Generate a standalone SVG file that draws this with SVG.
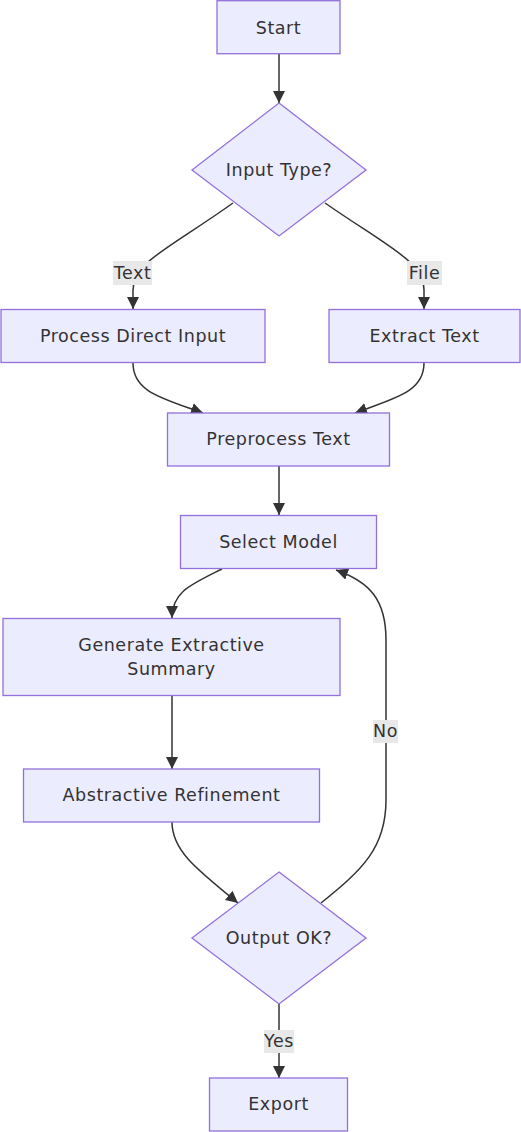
<svg xmlns="http://www.w3.org/2000/svg" width="521" height="1132" viewBox="0 0 521 1132">
<style>
.node rect,.node polygon{fill:#ECECFF;stroke:#9370DB;stroke-width:1.3}
text{font-family:"DejaVu Sans",Verdana,sans-serif;font-size:17.5px;letter-spacing:0.55px;fill:#333;text-anchor:middle}
.edge{fill:none;stroke:#333;stroke-width:1.5}
.lbl rect{fill:#e8e8e8;stroke:none}
</style>
<defs>
<marker id="arr" viewBox="0 0 10 10" refX="10" refY="5" markerUnits="userSpaceOnUse" markerWidth="12" markerHeight="12" orient="auto">
<path d="M0,0 L10,5 L0,10 z" fill="#333"/>
</marker>
</defs>
<rect width="521" height="1132" fill="#fff"/>
<g id="edges">
<path class="edge" d="M279,54 L279,103" marker-end="url(#arr)"/>
<path class="edge" d="M233,203 C170,248 133,262 133,290 L133,309" marker-end="url(#arr)"/>
<path class="edge" d="M325,203 C390,248 424,262 424,290 L424,309" marker-end="url(#arr)"/>
<path class="edge" d="M133,363 C133,392 162,398 203,413" marker-end="url(#arr)"/>
<path class="edge" d="M424,363 C424,392 395,398 355,413" marker-end="url(#arr)"/>
<path class="edge" d="M279,466 L279,515" marker-end="url(#arr)"/>
<path class="edge" d="M222,569 C190,585 172,592 172,618" marker-end="url(#arr)"/>
<path class="edge" d="M172,696 L172,769" marker-end="url(#arr)"/>
<path class="edge" d="M172,822 C172,850 195,868 238,903" marker-end="url(#arr)"/>
<path class="edge" d="M321,903 C362,870 386,848 386,800 L386,640 C386,600 370,582 336,570" marker-end="url(#arr)"/>
<path class="edge" d="M279,1004 L279,1078" marker-end="url(#arr)"/>
<g class="lbl"><rect x="113" y="261" width="39" height="24"/><text x="132.5" y="278.5">Text</text></g>
<g class="lbl"><rect x="407" y="261" width="35" height="24"/><text x="424.5" y="278.5">File</text></g>
<g class="lbl"><rect x="373" y="720" width="25" height="23"/><text x="385.5" y="737">No</text></g>
<g class="lbl"><rect x="264" y="1030" width="30" height="23"/><text x="279" y="1046.5">Yes</text></g>
</g>
<g id="start" class="node"><rect x="217" y="0.7" width="123" height="53"/><text x="278.5" y="33.5">Start</text></g>
<g id="inputType" class="node"><polygon points="279,103 366,170 279,236 192,170"/><text x="279" y="176">Input Type?</text></g>
<g id="processDirect" class="node"><rect x="1" y="309.5" width="264" height="53"/><text x="133" y="342">Process Direct Input</text></g>
<g id="extractText" class="node"><rect x="329" y="309.5" width="191" height="53"/><text x="424.5" y="342">Extract Text</text></g>
<g id="preprocess" class="node"><rect x="167.5" y="413" width="222" height="53"/><text x="278.5" y="444.5">Preprocess Text</text></g>
<g id="selectModel" class="node"><rect x="180.5" y="515.5" width="196" height="53"/><text x="278.5" y="547.5">Select Model</text></g>
<g id="generate" class="node"><rect x="3" y="618.5" width="337" height="77"/><text x="171.5" y="651">Generate Extractive</text><text x="171.5" y="674.5">Summary</text></g>
<g id="abstractive" class="node"><rect x="23.5" y="769" width="296" height="53"/><text x="171.5" y="801">Abstractive Refinement</text></g>
<g id="outputOk" class="node"><polygon points="279,872 366,938 279,1004 192,938"/><text x="279" y="943.5">Output OK?</text></g>
<g id="export" class="node"><rect x="209.5" y="1078" width="138" height="53"/><text x="278.5" y="1110">Export</text></g>
</svg>
